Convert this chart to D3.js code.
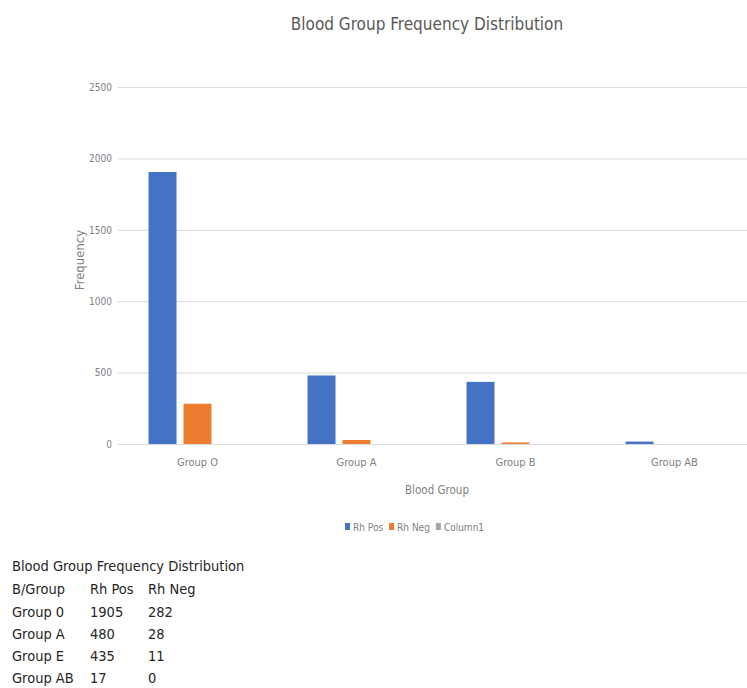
<!DOCTYPE html>
<html>
<head>
<meta charset="utf-8">
<script src="https://cdn.jsdelivr.net/npm/d3@7"></script>
<style>
  html, body { margin: 0; padding: 0; background: #fff; }
  svg { display: block; overflow: hidden; }
  text { font-family: "DejaVu Sans Condensed", "Liberation Sans", sans-serif; }
</style>
</head>
<body>
<svg id="chart" width="747" height="688"></svg>
<script>
const chartTitle = "Blood Group Frequency Distribution";
const categories = ["Group O", "Group A", "Group B", "Group AB"];
const seriesNames = ["Rh Pos", "Rh Neg", "Column1"];
const rhPos = [1905, 480, 435, 17];
const rhNeg = [282, 28, 11, 0];
const column1 = [null, null, null, null];
const yTicks = [0, 500, 1000, 1500, 2000, 2500];
const xTitle = "Blood Group";
const yTitle = "Frequency";
const tableTitle = "Blood Group Frequency Distribution";
const tableHeader = ["B/Group", "Rh Pos", "Rh Neg"];
const tableGroups = ["Group 0", "Group A", "Group E", "Group AB"];
const tablePos = [1905, 480, 435, 17];
const tableNeg = [282, 28, 11, 0];

const colors = ["#4472C4", "#ED7D31", "#A5A5A5"];
const seriesValues = [rhPos, rhNeg, column1];
const FONT = '"DejaVu Sans Condensed", "Liberation Sans", sans-serif';

const svg = d3.select("#chart");
const plotLeft = 118, plotRight = 754, plotTop = 87, plotBottom = 444;

const x0 = d3.scaleBand().domain(categories).range([plotLeft, plotRight])
  .paddingInner(0.384).paddingOuter(0.192);
const x1 = d3.scaleBand().domain(seriesNames).range([0, x0.bandwidth()])
  .paddingInner(0.2).paddingOuter(0);
const y = d3.scaleLinear().domain([0, 2500]).range([plotBottom, plotTop]);

// title
svg.append("text").attr("x", 427).attr("y", 30).attr("text-anchor", "middle")
  .attr("font-size", 17).attr("fill", "#595959").text(chartTitle);

// gridlines
const yAxis = d3.axisLeft(y).tickValues(yTicks).tickSize(-(plotRight - plotLeft)).tickPadding(6)
  .tickFormat(d3.format("d"));
const gy = svg.append("g").attr("transform", `translate(${plotLeft},0)`).call(yAxis);
gy.select(".domain").remove();
gy.selectAll(".tick line").attr("stroke", "#d9d9d9").attr("stroke-width", 1);
gy.selectAll(".tick text").attr("fill", "#7f7f7f").attr("font-size", 10)
  .style("font-family", FONT);

// bars
const groups = svg.append("g").selectAll("g").data(categories).join("g")
  .attr("transform", d => `translate(${x0(d)},0)`);
groups.selectAll("rect")
  .data((c, i) => seriesNames.map((s, j) => ({ s, v: seriesValues[j][i], j })).filter(d => d.v !== null))
  .join("rect")
  .attr("x", d => x1(d.s))
  .attr("width", x1.bandwidth())
  .attr("y", d => y(d.v))
  .attr("height", d => Math.max(0, y(0) - y(d.v)))
  .attr("fill", d => colors[d.j]);

// x axis
const xAxis = d3.axisBottom(x0).tickSize(0).tickPadding(14);
const gx = svg.append("g").attr("transform", `translate(0,${plotBottom})`).call(xAxis);
gx.select(".domain").attr("stroke", "#d9d9d9");
gx.selectAll(".tick text").attr("fill", "#7f7f7f").attr("font-size", 11)
  .style("font-family", FONT);

// axis titles
svg.append("text").attr("x", 437).attr("y", 494).attr("text-anchor", "middle")
  .attr("font-size", 11.5).attr("fill", "#7f7f7f").text(xTitle);
svg.append("text").attr("transform", "translate(84,260) rotate(-90)")
  .attr("text-anchor", "middle").attr("font-size", 13).attr("fill", "#7f7f7f").text(yTitle);

// legend
const legend = svg.append("g").attr("transform", "translate(345,527)");
let lx = 0;
seriesNames.forEach((s, i) => {
  const g = legend.append("g").attr("transform", `translate(${lx},0)`);
  g.append("rect").attr("x", 0).attr("y", -4).attr("width", 5).attr("height", 7).attr("fill", colors[i]);
  const t = g.append("text").attr("x", 8).attr("y", 3.5).attr("font-size", 10).attr("fill", "#7f7f7f").text(s);
  lx += 8 + t.node().getComputedTextLength() + 6;
});

// data table
const tbl = svg.append("g").attr("fill", "#262626").attr("font-size", 14.5);
tbl.append("text").attr("x", 12).attr("y", 571).text(tableTitle);
const colX = [12, 90, 148];
const rowY = [594, 617, 639, 661, 683];
tableHeader.forEach((h, j) => tbl.append("text").attr("x", colX[j]).attr("y", rowY[0]).text(h));
tableGroups.forEach((g, i) => {
  tbl.append("text").attr("x", colX[0]).attr("y", rowY[i + 1]).text(g);
  tbl.append("text").attr("x", colX[1]).attr("y", rowY[i + 1]).text(tablePos[i]);
  tbl.append("text").attr("x", colX[2]).attr("y", rowY[i + 1]).text(tableNeg[i]);
});
</script>
</body>
</html>
